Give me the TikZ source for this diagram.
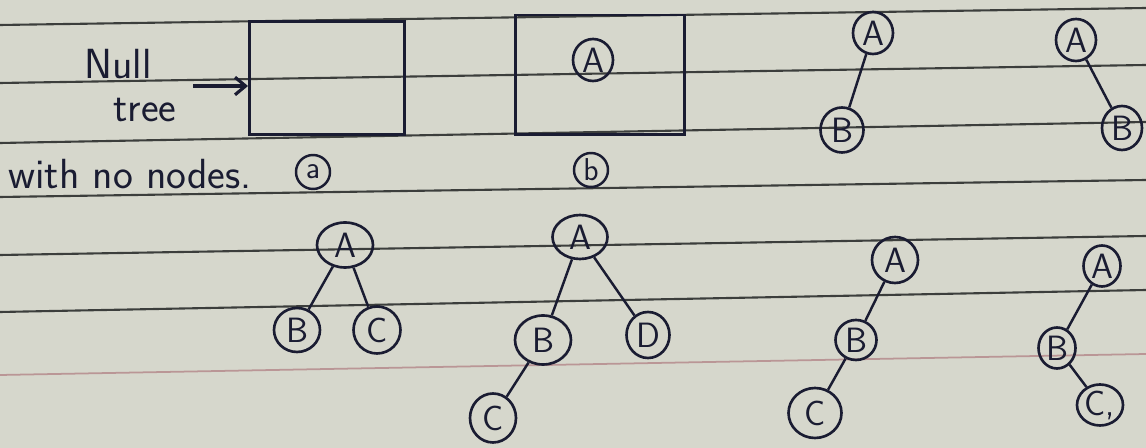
\documentclass[tikz,border=0pt]{standalone}
\usetikzlibrary{positioning, arrows.meta, shapes.geometric}

\definecolor{ink}{RGB}{26,28,50}
\definecolor{paper}{RGB}{214,215,204}
\definecolor{rulegray}{RGB}{60,62,60}
\definecolor{rulepink}{RGB}{186,150,150}

\begin{document}
\begin{tikzpicture}[
  x=0.02cm, y=-0.02cm,
  font=\sffamily,
  vert/.style={draw=ink, ellipse, line width=1.5pt, text=ink, inner sep=0pt,
    minimum width=0.8cm, minimum height=0.8cm, font=\sffamily\fontsize{20}{24}\selectfont},
  tag/.style={draw=ink, circle, line width=1.4pt, text=ink, inner sep=0pt,
    minimum size=0.68cm, font=\sffamily\fontsize{18}{21}\selectfont},
  treebox/.style={draw=ink, line width=1.7pt, inner sep=0pt},
  hand/.style={text=ink, inner sep=0pt, font=\sffamily\fontsize{24}{28}\selectfont},
  link/.style={draw=ink, line width=1.4pt},
  pointer/.style={-{Straight Barb[length=6pt, width=10pt]}, draw=ink, line width=1.8pt},
  ruling/.style={draw=rulegray, line width=1.2pt}
]
\useasboundingbox (0,0) rectangle (1146,448);

% ruled paper
\fill[paper] (0,0) rectangle (1146,448);
\draw[ruling] (0,25) -- (1146,8);
\draw[ruling] (0,83) -- (1146,65);
\draw[ruling] (0,143) -- (1146,122);
\draw[ruling] (0,197) -- (1146,180);
\draw[ruling] (0,255) -- (1146,236);
\draw[ruling] (0,312) -- (1146,290);
\draw[draw=rulepink, line width=1pt] (0,375) -- (1146,354);

% (a) null tree
\node[treebox, minimum width=3.1cm, minimum height=2.26cm] (boxa) at (327,78) {};
\node[hand] (null) at (118,64) {Null};
\node[hand] (tree) at (145,110) {tree};
\node[hand, anchor=west] (nonodes) at (8,174) {with no nodes.};
\coordinate (arrtail) at (193,86);
\draw[pointer] (arrtail) -- (boxa.west |- arrtail);
\node[tag] (taga) at (313,172) {a};

% (b) single root
\node[treebox, minimum width=3.4cm, minimum height=2.4cm] (boxb) at (600,75) {};
\node[vert, minimum height=0.84cm] (b-a) at (593,60) {A};
\node[tag] (tagb) at (591,170) {b};

% root with left child
\node[vert, minimum height=0.84cm] (c-a) at (873,33) {A};
\node[vert, minimum width=0.86cm, minimum height=0.9cm] (c-b) at (842,130) {B};
\draw[link] (c-a) -- (c-b);

% root with right child
\node[vert, minimum height=0.84cm] (d-a) at (1076,40) {A};
\node[vert, minimum height=0.88cm] (d-b) at (1122,128) {B};
\draw[link] (d-a) -- (d-b);

% root with two children
\node[vert, minimum width=1.12cm, minimum height=0.9cm] (e-a) at (345,245) {A};
\node[vert, minimum width=0.92cm, minimum height=0.88cm] (e-b) at (297,330) {B};
\node[vert, minimum width=0.94cm, minimum height=0.94cm] (e-c) at (377,330) {C};
\draw[link] (e-a) -- (e-b);
\draw[link] (e-a) -- (e-c);

% four nodes
\node[vert, minimum width=1.1cm, minimum height=0.88cm] (f-a) at (580,237) {A};
\node[vert, minimum width=1.12cm, minimum height=0.98cm] (f-b) at (543,340) {B};
\node[vert, minimum width=0.86cm, minimum height=0.92cm] (f-d) at (648,335) {D};
\node[vert, minimum width=0.92cm, minimum height=0.98cm] (f-c) at (493,418) {C};
\draw[link] (f-a) -- (f-b);
\draw[link] (f-a) -- (f-d);
\draw[link] (f-b) -- (f-c);

% skewed to the left
\node[vert, minimum width=0.92cm, minimum height=0.92cm] (g-a) at (895,260) {A};
\node[vert, minimum width=0.82cm, minimum height=0.8cm] (g-b) at (856,340) {B};
\node[vert, minimum width=1.06cm, minimum height=1cm] (g-c) at (815,413) {C};
\draw[link] (g-a) -- (g-b);
\draw[link] (g-b) -- (g-c);

% left then right
\node[vert, minimum width=0.74cm, minimum height=0.82cm] (h-a) at (1102,266) {A};
\node[vert, minimum width=0.74cm, minimum height=0.82cm] (h-b) at (1057,348) {B};
\node[vert, minimum width=0.92cm, minimum height=0.82cm] (h-c) at (1100,405) {C,};
\draw[link] (h-a) -- (h-b);
\draw[link] (h-b) -- (h-c);

\end{tikzpicture}
\end{document}
